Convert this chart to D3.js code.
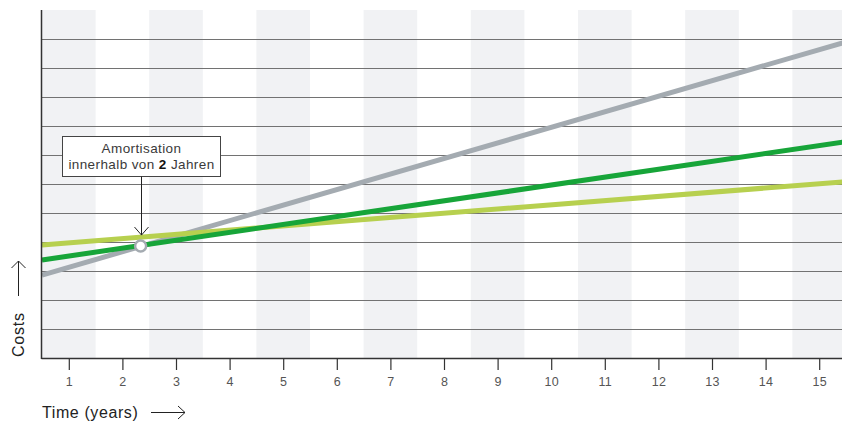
<!DOCTYPE html>
<html>
<head>
<meta charset="utf-8">
<script src="https://cdn.jsdelivr.net/npm/d3@7"></script>
<style>
  body { margin: 0; background: #fff; }
  svg { display: block; font-family: "Liberation Sans", Arial, Helvetica, sans-serif; }
</style>
</head>
<body>
<svg id="chart" width="842" height="424"></svg>
<script>
// ---- data ----
const years = [1,2,3,4,5,6,7,8,9,10,11,12,13,14,15];
const lineX = [0.5, 15.5];
const grayValues = [2.86, 10.9];
const darkGreenValues = [3.38, 7.46];
const lightGreenValues = [3.9, 6.08];
const payback = { year: 2.34, value: 3.86 };
const yGridValues = [1,2,3,4,5,6,7,8,9,10,11];
const annotationLines = ["Amortisation", "innerhalb von ", "2", " Jahren"];

// ---- layout ----
const svg = d3.select("#chart");
const mLeft = 42, mRight = 846, mTop = 10, mBottom = 358;
const x = d3.scaleLinear().domain([0.5, 15.5]).range([mLeft, mRight]);
const y = d3.scaleLinear().domain([0, 12]).range([mBottom, mTop]);

// alternating bands (odd years shaded)
svg.append("g").selectAll("rect")
  .data(years.filter(d => d % 2 === 1))
  .join("rect")
  .attr("x", d => x(d - 0.5))
  .attr("y", mTop)
  .attr("width", d => x(d + 0.5) - x(d - 0.5))
  .attr("height", mBottom - mTop)
  .attr("fill", "#f1f2f4");

// horizontal gridlines
svg.append("g").selectAll("line")
  .data(yGridValues)
  .join("line")
  .attr("x1", mLeft).attr("x2", 842)
  .attr("y1", d => y(d) + 0.5).attr("y2", d => y(d) + 0.5)
  .attr("stroke", "#727272").attr("stroke-width", 1.2);

// lines
const lineGen = d3.line().x(d => x(d[0])).y(d => y(d[1]));
const series = [
  { vals: grayValues, color: "#a4abb1" },
  { vals: lightGreenValues, color: "#b7d04f" },
  { vals: darkGreenValues, color: "#17a539" }
];
series.forEach(s => {
  svg.append("path")
    .datum(lineX.map((d, i) => [d, s.vals[i]]))
    .attr("d", lineGen)
    .attr("fill", "none")
    .attr("stroke", s.color)
    .attr("stroke-width", 5);
});

// axes
const xAxis = d3.axisBottom(x).tickValues(years).tickSize(11).tickPadding(7).tickFormat(d3.format("d"));
const gx = svg.append("g").attr("transform", `translate(0,${mBottom + 1})`).call(xAxis);
gx.select(".domain").remove();
gx.selectAll(".tick line").attr("stroke", "#333").attr("stroke-width", 1.2);
gx.selectAll(".tick text").attr("fill", "#555").style("font-size", "12.5px")
  .style("letter-spacing", "0.3px")
  .style("font-family", '"Liberation Sans", Arial, sans-serif');

svg.append("line").attr("x1", mLeft - 0.5).attr("x2", 842).attr("y1", mBottom + 0.5).attr("y2", mBottom + 0.5)
  .attr("stroke", "#333").attr("stroke-width", 1.5);
svg.append("line").attr("x1", mLeft - 0.5).attr("x2", mLeft - 0.5).attr("y1", mTop).attr("y2", mBottom + 1)
  .attr("stroke", "#333").attr("stroke-width", 1.5);

// payback marker
const px = x(payback.year), py = y(payback.value);
svg.append("circle").attr("cx", px).attr("cy", py).attr("r", 5.5)
  .attr("fill", "#fff").attr("stroke", "#a4abb1").attr("stroke-width", 2.5);

// annotation box
const boxX = 62, boxY = 136, boxW = 158, boxH = 40;
svg.append("rect").attr("x", boxX + 0.5).attr("y", boxY + 0.5).attr("width", boxW).attr("height", boxH)
  .attr("fill", "#fff").attr("stroke", "#444").attr("stroke-width", 1);
svg.append("text").attr("x", boxX + boxW / 2 + 0.5).attr("y", boxY + 17)
  .attr("text-anchor", "middle").attr("fill", "#3a3a3a").style("font-size", "13.5px")
  .style("letter-spacing", "0.4px")
  .text(annotationLines[0]);
const t2 = svg.append("text").attr("x", boxX + boxW / 2 + 0.5).attr("y", boxY + 33)
  .attr("text-anchor", "middle").attr("fill", "#3a3a3a").style("font-size", "13.5px")
  .style("letter-spacing", "0.4px");
t2.append("tspan").text(annotationLines[1]);
t2.append("tspan").attr("font-weight", "bold").attr("fill", "#111").text(annotationLines[2]);
t2.append("tspan").text(annotationLines[3]);

// annotation arrow
const ax = Math.round(px) + 0.5;
svg.append("line").attr("x1", ax).attr("x2", ax).attr("y1", boxY + boxH + 0.5).attr("y2", py - 11)
  .attr("stroke", "#222").attr("stroke-width", 1);
svg.append("path").attr("d", `M${ax - 7},${py - 19} L${ax},${py - 11} L${ax + 7},${py - 19}`)
  .attr("fill", "none").attr("stroke", "#222").attr("stroke-width", 1);

// axis titles
svg.append("text").attr("x", 42).attr("y", 418).attr("fill", "#222").style("font-size", "16px")
  .style("letter-spacing", "0.6px")
  .text("Time (years)");
svg.append("line").attr("x1", 151).attr("x2", 185).attr("y1", 412.5).attr("y2", 412.5)
  .attr("stroke", "#222").attr("stroke-width", 1);
svg.append("path").attr("d", "M178,406 L185,412.5 L178,419").attr("fill", "none").attr("stroke", "#222");

svg.append("text").attr("transform", "translate(24,357) rotate(-90)").attr("fill", "#222")
  .style("font-size", "16px").style("letter-spacing", "0.8px").text("Costs");
svg.append("line").attr("x1", 18.5).attr("x2", 18.5).attr("y1", 296).attr("y2", 261)
  .attr("stroke", "#222").attr("stroke-width", 1);
svg.append("path").attr("d", "M11.5,268 L18.5,261 L25.5,268").attr("fill", "none").attr("stroke", "#222");
</script>
</body>
</html>
